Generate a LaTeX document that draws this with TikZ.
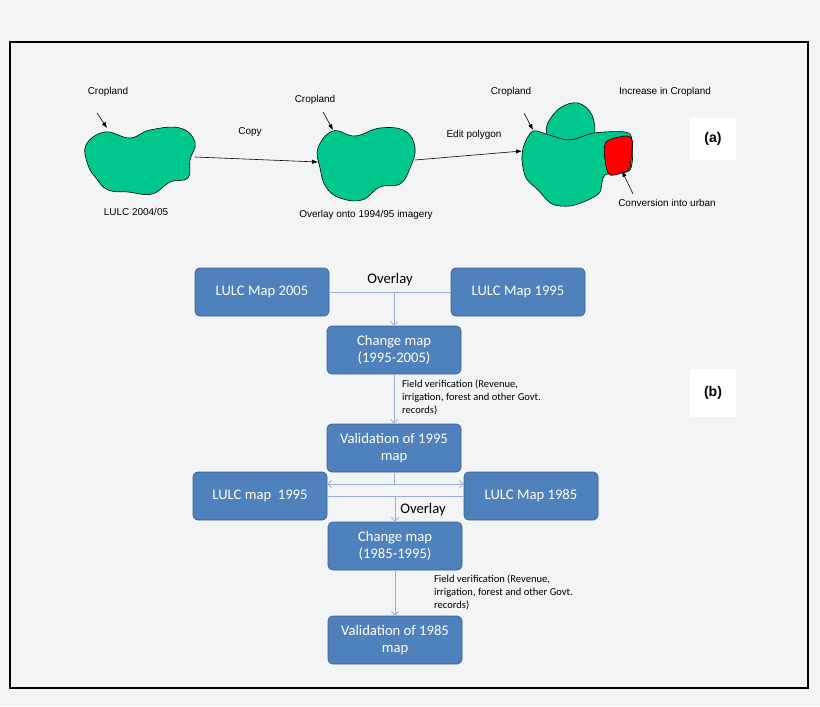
\documentclass[tikz,border=0pt]{standalone}
\usepackage{fontspec}
\setmainfont{Liberation Sans}
\newfontfamily\calib{Carlito}
\usetikzlibrary{arrows.meta}
\definecolor{crop}{HTML}{00C88C}
\definecolor{boxblue}{HTML}{4F81BD}
\definecolor{boxline}{HTML}{3A6393}
\definecolor{linkblue}{HTML}{95B3DE}
\definecolor{bg}{HTML}{F3F4F5}
\begin{document}
\begin{tikzpicture}[x=0.03cm, y=-0.03cm, font=\fontsize{8.5}{10}\selectfont,
    stage/.style={draw=boxline, fill=boxblue, rounded corners=4pt, text=white, align=center,
      minimum width=4.02cm, minimum height=1.44cm, font=\calib\fontsize{12.5}{15}\selectfont, line width=0.6pt},
    link/.style={draw=linkblue, line width=0.8pt},
    tip/.style={-{Straight Barb[length=3pt]}},
    pointer/.style={-{Latex[length=5pt]}, line width=0.5pt},
    tag/.style={fill=white, minimum width=1.38cm, font=\bfseries\fontsize{12}{14}\selectfont},
    blob/.style={draw, fill=crop, line width=0.5pt}]
    \useasboundingbox (0,0) rectangle (820,706);
    \fill[bg] (0,0) rectangle (820,706);
    \draw[line width=1.6pt] (10,42) rectangle (808,688);

    % (a) blobs
    \draw[blob] plot[smooth cycle, tension=0.7] coordinates {(86,145) (105,132) (130,138) (150,130) (180,128) (195,142) (190,160) (188,178) (170,182) (152,194) (128,192) (108,190) (96,178) (88,165)};
    \draw[blob] plot[smooth cycle, tension=0.7] coordinates {(318,148) (333,131) (355,136) (380,128) (405,131) (415,148) (410,168) (400,184) (380,187) (362,200) (340,198) (326,187) (320,168)};
    \draw[blob] plot[smooth cycle, tension=0.6] coordinates {(547,125) (560,108) (578,103) (592,115) (593,137) (570,140) (550,138)};
    \draw[blob] plot[smooth cycle, tension=0.5] coordinates {(524,145) (533,131) (549,135) (570,140) (594,133) (625,132) (632,140) (630,170) (605,175) (600,192) (588,200) (570,206) (552,204) (538,190) (526,178) (522,160)};
    \draw[fill=red, line width=0.5pt] plot[smooth cycle, tension=0.5] coordinates {(606,142) (625,136) (632,140) (631,160) (628,170) (610,175) (605,160)};

    \node (crop1) at (108,92) {Cropland};
    \node (crop2) at (315,100) {Cropland};
    \node (crop3) at (511,92) {Cropland};
    \node at (665,92) {Increase in Cropland};
    \node at (250,132) {Copy};
    \node at (474,135) {Edit polygon};
    \node at (136,212) {LULC 2004/05};
    \node at (366,215) {Overlay onto 1994/95 imagery};
    \node (urban) at (667,203) {Conversion into urban};
    \coordinate (b1e) at (195,157);
    \coordinate (b2w) at (318,162);
    \coordinate (b2e) at (415,160);
    \coordinate (b3w) at (522,151);
    \draw[pointer] (97,113) -- (107,128);
    \draw[pointer] (323,112) -- (333,130);
    \draw[pointer] (524,113) -- (533,130);
    \draw[pointer] (b1e) -- (b2w);
    \draw[pointer] (b2e) -- (b3w);
    \draw[pointer] (633,194) -- (622,171);
    \node[tag, minimum height=1.26cm] (taga) at (713,139) {(a)};
    \node[tag, minimum height=1.44cm] (tagb) at (713,393) {(b)};

    % (b) flow
    \node[stage] (map05) at (262,292) {LULC Map 2005};
    \node[stage] (map95) at (518,292) {LULC Map 1995};
    \node[stage] (chg1) at (394,350) {Change map\\(1995-2005)};
    \node[stage] (val95) at (394,448) {Validation of 1995\\map};
    \node[stage] (map95b) at (260,496) {LULC map~~1995};
    \node[stage] (map85) at (531,496) {LULC Map 1985};
    \node[stage] (chg2) at (395,546) {Change map\\(1985-1995)};
    \node[stage] (val85) at (395,640) {Validation of 1985\\map};
    \node[font=\calib\fontsize{12.5}{15}\selectfont] at (390,280) {Overlay};
    \node[font=\calib\fontsize{12.5}{15}\selectfont] at (423,510) {Overlay};
    \node[font=\calib\fontsize{9}{11}\selectfont, align=left, anchor=north west] at (398,376) {Field verification (Revenue,\\irrigation, forest and other Govt.\\records)};
    \node[font=\calib\fontsize{9}{11}\selectfont, align=left, anchor=north west] at (430,571) {Field verification (Revenue,\\irrigation, forest and other Govt.\\records)};

    \coordinate (join1) at (394,292);
    \coordinate (split) at (394,484);
    \coordinate (join2) at (395,496);
    \draw[link] (map05) -- (map95);
    \draw[link, tip] (join1) -- (chg1);
    \draw[link, tip] (chg1) -- (val95);
    \draw[link] (val95) -- (split);
    \draw[link, tip] (split) -- (map95b.east |- split);
    \draw[link, tip] (split) -- (map85.west |- split);
    \draw[link] (map95b) -- (map85);
    \draw[link, tip] (join2) -- (chg2);
    \draw[link, tip] (chg2) -- (val85);
\end{tikzpicture}
\end{document}
